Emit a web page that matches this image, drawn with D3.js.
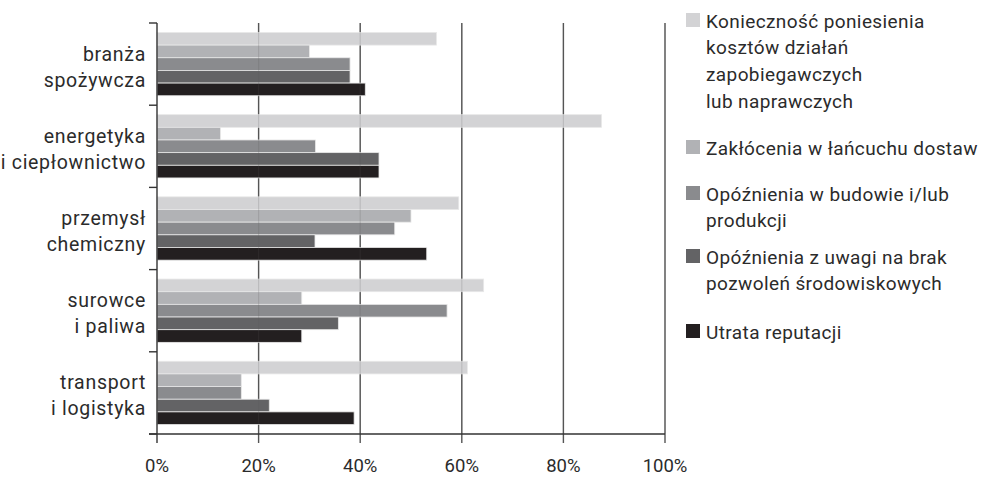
<!DOCTYPE html>
<html>
<head>
<meta charset="utf-8">
<script src="https://cdn.jsdelivr.net/npm/d3@7"></script>
<style>
  html, body { margin: 0; padding: 0; background: #fff; }
  svg { display: block; }
  text { font-family: Roboto, "DejaVu Sans", sans-serif; fill: #2b2b2b; }
</style>
</head>
<body>
<svg id="chart" width="983" height="477"></svg>
<script>
// ---- data ----
const categories = ["branża spożywcza", "energetyka i ciepłownictwo", "przemysł chemiczny", "surowce i paliwa", "transport i logistyka"];
const categoryLines = [["branża", "spożywcza"], ["energetyka", "i ciepłownictwo"], ["przemysł", "chemiczny"], ["surowce", "i paliwa"], ["transport", "i logistyka"]];
const seriesNames = [
  "Konieczność poniesienia kosztów działań zapobiegawczych lub naprawczych",
  "Zakłócenia w łańcuchu dostaw",
  "Opóźnienia w budowie i/lub produkcji",
  "Opóźnienia z uwagi na brak pozwoleń środowiskowych",
  "Utrata reputacji"
];
const legendLines = [
  ["Konieczność poniesienia", "kosztów działań", "zapobiegawczych", "lub naprawczych"],
  ["Zakłócenia w łańcuchu dostaw"],
  ["Opóźnienia w budowie i/lub", "produkcji"],
  ["Opóźnienia z uwagi na brak", "pozwoleń środowiskowych"],
  ["Utrata reputacji"]
];
// values in % per series, one per category
const kosztyDzialan   = [55, 87.5, 59.4, 64.3, 61.1];
const zakloceniaDostaw = [30, 12.5, 50, 28.5, 16.6];
const opoznieniaBudowa = [38, 31.2, 46.8, 57.1, 16.6];
const opoznieniaPozwolenia = [38, 43.7, 31.1, 35.7, 22.1];
const utrataReputacji = [41, 43.7, 53.1, 28.5, 38.8];
const seriesValues = [kosztyDzialan, zakloceniaDostaw, opoznieniaBudowa, opoznieniaPozwolenia, utrataReputacji];
const xTicks = [0, 20, 40, 60, 80, 100];
const xTickLabels = ["0%", "20%", "40%", "60%", "80%", "100%"];
const colors = ["#d3d3d5", "#b1b2b5", "#8a8b8e", "#636365", "#231f20"];

// ---- layout ----
const svg = d3.select("#chart");
const X0 = 157, X1 = 665, Y0 = 23, Y1 = 434;

const x = d3.scaleLinear().domain([0, 100]).range([X0, X1]);
const y0 = d3.scaleBand().domain(categories).range([Y0, Y1]).paddingInner(0.23).paddingOuter(0.115);
const y1 = d3.scaleBand().domain(d3.range(seriesNames.length)).range([0, y0.bandwidth()]).padding(0);
const yEdges = d3.scaleLinear().domain([0, categories.length]).range([Y0, Y1]);

const rows = [];
categories.forEach((c, ci) => seriesValues.forEach((vals, si) => rows.push({c, si, v: vals[ci]})));

// gridlines under bars
const gridG = svg.append("g");
gridG.selectAll("line").data(xTicks.slice(1)).join("line")
  .attr("x1", d => x(d)).attr("x2", d => x(d))
  .attr("y1", Y0).attr("y2", Y1 + 9)
  .attr("stroke", "#555").attr("stroke-width", 1.4);

// bars
svg.append("g").selectAll("rect").data(rows).join("rect")
  .attr("x", x(0))
  .attr("y", d => y0(d.c) + y1(d.si))
  .attr("width", d => x(d.v) - x(0))
  .attr("height", y1.bandwidth())
  .attr("fill", d => colors[d.si])
  .attr("stroke", "#e8e8e8").attr("stroke-width", 0.8);

// gridlines faintly over bars
svg.append("g").selectAll("line").data(xTicks.slice(1)).join("line")
  .attr("x1", d => x(d)).attr("x2", d => x(d))
  .attr("y1", Y0).attr("y2", Y1)
  .attr("stroke", "#555").attr("stroke-width", 1.2).attr("opacity", 0.18);

// y axis line with category boundary ticks
svg.append("line").attr("x1", X0).attr("x2", X0).attr("y1", Y0).attr("y2", Y1 + 9)
  .attr("stroke", "#333").attr("stroke-width", 1.4);
svg.append("g").selectAll("line").data(d3.range(categories.length + 1)).join("line")
  .attr("x1", X0 - 8).attr("x2", X0)
  .attr("y1", d => yEdges(d)).attr("y2", d => yEdges(d))
  .attr("stroke", "#333").attr("stroke-width", 1.4);

// x axis line
svg.append("line").attr("x1", X0 - 8).attr("x2", X1).attr("y1", Y1).attr("y2", Y1)
  .attr("stroke", "#333").attr("stroke-width", 1.4);

// x tick labels
svg.append("g").selectAll("text").data(xTicks).join("text")
  .attr("x", d => x(d)).attr("y", 466)
  .attr("text-anchor", "middle").attr("dominant-baseline", "central")
  .style("font-size", "18.5px")
  .text((d, i) => xTickLabels[i]);

// category labels
const catG = svg.append("g").selectAll("text").data(categories).join("text")
  .attr("text-anchor", "end")
  .style("font-size", "19.5px").style("letter-spacing", "0.7px");
catG.each(function(c, ci) {
  const cy = y0(c) + y0.bandwidth() / 2 + 3;
  d3.select(this).selectAll("tspan").data(categoryLines[ci]).join("tspan")
    .attr("x", 146)
    .attr("y", (d, i) => cy + (i - 0.5) * 26)
    .attr("dominant-baseline", "central")
    .text(d => d);
});

// legend
const legendY = [20, 147, 193, 256, 331];
const lineH = 26.7;
const lg = svg.append("g");
seriesNames.forEach((s, si) => {
  const g = lg.append("g");
  g.append("rect").attr("x", 686).attr("y", legendY[si] - 7).attr("width", 14).attr("height", 14)
    .attr("fill", colors[si]);
  g.selectAll("text").data(legendLines[si]).join("text")
    .attr("x", 706).attr("y", (d, i) => legendY[si] + i * lineH + 1)
    .attr("dominant-baseline", "central")
    .style("font-size", "19px").style("letter-spacing", "0.4px")
    .text(d => d);
});
</script>
</body>
</html>
